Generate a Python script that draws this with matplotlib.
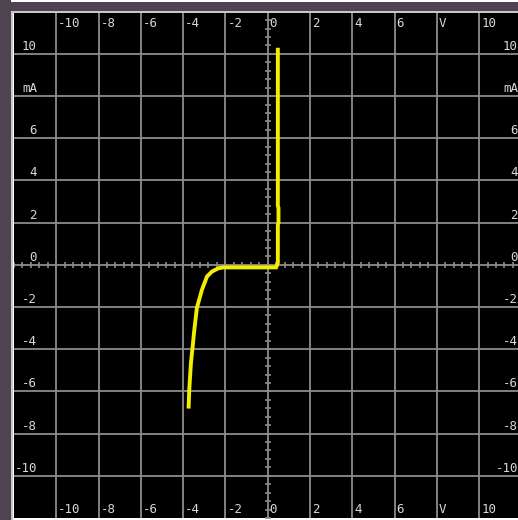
import matplotlib.pyplot as plt
import numpy as np
from matplotlib.patches import Rectangle
from matplotlib.transforms import blended_transform_factory

# axis labels as printed by the curve tracer
X_TICKS = [-10, -8, -6, -4, -2, 0, 2, 4, 6, 8, 10]
X_LABELS = ["-10", "-8", "-6", "-4", "-2", "0", "2", "4", "6", "V", "10"]
Y_TICKS = [10, 8, 6, 4, 2, 0, -2, -4, -6, -8, -10]
Y_LABELS = ["10", "mA", "6", "4", "2", "0", "-2", "-4", "-6", "-8", "-10"]

# measured trace: voltage (V) and current (mA)
VOLTS = [-3.74, -3.71, -3.63, -3.54, -3.48, -3.35, -3.11, -2.87, -2.64,
         -2.33, -2.10, 0.40, 0.48, 0.48, 0.51, 0.51, 0.48, 0.48]
CURRENT = [-6.72, -5.92, -4.64, -3.79, -3.16, -2.04, -1.18, -0.55, -0.32,
           -0.16, -0.12, -0.12, 0.10, 1.90, 2.00, 2.70, 2.80, 10.2]

W, H = 518, 520
GRID = "#8c8c8c"
TEXT = "#d8d8d8"
PX = 0.72  # points per pixel at 100 dpi


def run():
    fig = plt.figure(figsize=(W / 100, H / 100), dpi=100, facecolor="white")

    # window frame
    frame = "#4f4351"
    fig.patches.append(Rectangle((0, 0), 11 / W, 1, transform=fig.transFigure,
                                 facecolor=frame, edgecolor="none"))
    fig.patches.append(Rectangle((0, 1 - 11 / H), 1, 9 / H, transform=fig.transFigure,
                                 facecolor=frame, edgecolor="none"))
    fig.patches.append(Rectangle((11 / W, 0), 2 / W, 1 - 11 / H, transform=fig.transFigure,
                                 facecolor="#c8c8c8", edgecolor="none"))
    fig.patches.append(Rectangle((11 / W, 1 - 13 / H), 1, 2 / H, transform=fig.transFigure,
                                 facecolor="#c8c8c8", edgecolor="none"))

    ax = fig.add_axes([14 / W, 2 / H, (W - 14) / W, (518 - 13) / H])
    ax.set_facecolor("black")
    ax.set_xlim(-12, 11.84)
    ax.set_ylim(-12, 11.94)
    for s in ax.spines.values():
        s.set_visible(False)
    ax.set_xticks([])
    ax.set_yticks([])

    # graticule
    for v in np.arange(-10, 11, 2):
        ax.axvline(v, color=GRID, lw=1.3, zorder=1)
        ax.axhline(v, color=GRID, lw=1.3, zorder=1)

    # small ticks on the centre axes
    minor = np.arange(-12, 12.01, 0.4)
    ax.plot(minor, np.zeros_like(minor), "|", color=GRID, ms=5, mew=1.2, zorder=1)
    ax.plot(np.zeros_like(minor), minor, "_", color=GRID, ms=5, mew=1.2, zorder=1)

    ax.plot(VOLTS, CURRENT, color="#f2ee00", lw=2.8, solid_joinstyle="miter", zorder=3)

    font = dict(family="DejaVu Sans Mono", size=9, color=TEXT)
    tx = blended_transform_factory(ax.transData, ax.transAxes)
    ty = blended_transform_factory(ax.transAxes, ax.transData)
    for v, lab in zip(X_TICKS, X_LABELS):
        ax.annotate(lab, (v, 1), xycoords=tx, xytext=(2 * PX, -4 * PX),
                    textcoords="offset points", ha="left", va="top", **font)
        ax.annotate(lab, (v, 0), xycoords=tx, xytext=(2 * PX, 2 * PX),
                    textcoords="offset points", ha="left", va="bottom", **font)
    for v, lab in zip(Y_TICKS, Y_LABELS):
        ax.annotate(lab, (0, v), xycoords=ty, xytext=(23 * PX, 1 * PX),
                    textcoords="offset points", ha="right", va="bottom", **font)
        ax.annotate(lab, (1, v), xycoords=ty, xytext=(0, 1 * PX),
                    textcoords="offset points", ha="right", va="bottom", **font)

    fig.savefig("out.png", dpi=100, facecolor=fig.get_facecolor())


if __name__ == "__main__":
    run()
